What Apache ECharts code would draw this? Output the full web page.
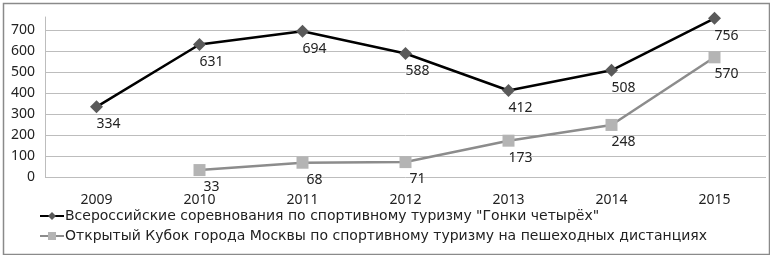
<!DOCTYPE html>
<html>
<head>
<meta charset="utf-8">
<script src="https://cdn.jsdelivr.net/npm/echarts@6/dist/echarts.min.js"></script>
<style>
  html, body { margin: 0; padding: 0; background: #fff; }
  #chart { width: 770px; height: 255px; }
</style>
</head>
<body>
<div id="chart"></div>
<script>
const years = ["2009", "2010", "2011", "2012", "2013", "2014", "2015"];
const raceFour = [334, 631, 694, 588, 412, 508, 756];
const moscowCup = [null, 33, 68, 71, 173, 248, 570];
const seriesNames = [
  "Всероссийские соревнования по спортивному туризму \"Гонки четырёх\"",
  "Открытый Кубок города Москвы по спортивному туризму на пешеходных дистанциях"
];

const font = "Noto Sans";
const chart = echarts.init(document.getElementById("chart"));

const option = {
  animation: false,
  textStyle: { fontFamily: font },
  graphic: [{
    type: "rect",
    left: 1, top: 1,
    shape: { width: 766, height: 251 },
    style: { fill: "none", stroke: "#8a8a8a", lineWidth: 1.5 }
  }],
  grid: { left: 45, right: 4, top: 17, height: 160 },
  xAxis: {
    type: "category",
    data: years,
    boundaryGap: true,
    axisLine: { show: false },
    axisTick: { show: false },
    axisLabel: { color: "#222", fontSize: 14, margin: 16, fontFamily: font }
  },
  yAxis: {
    type: "value",
    min: 0,
    max: 762,
    interval: 100,
    axisLine: { show: true, lineStyle: { color: "#bdbdbd" } },
    axisTick: { show: false },
    axisLabel: {
      color: "#222", fontSize: 14, margin: 10, fontFamily: font,
      showMaxLabel: false
    },
    splitLine: {
      lineStyle: {
        color: ["#bdbdbd", "#bdbdbd", "#bdbdbd", "#bdbdbd", "#bdbdbd",
                "#bdbdbd", "#bdbdbd", "#bdbdbd", "rgba(0,0,0,0)"]
      }
    }
  },
  legend: {
    orient: "vertical",
    left: 34,
    top: 204,
    itemGap: 6,
    itemWidth: 24,
    itemHeight: 10,
    textStyle: { color: "#222", fontSize: 14, fontFamily: "DejaVu Sans", padding: [0, 0, 0, -4] },
    data: seriesNames
  },
  series: [
    {
      name: seriesNames[0],
      type: "line",
      data: raceFour,
      symbol: "diamond",
      symbolSize: 13,
      itemStyle: { color: "#5a5a5a" },
      lineStyle: { color: "#000", width: 2.5 },
      label: {
        show: true, position: "bottom", distance: 4, offset: [12, 0],
        color: "#222", fontSize: 14, fontFamily: font
      }
    },
    {
      name: seriesNames[1],
      type: "line",
      data: moscowCup,
      symbol: "rect",
      symbolSize: 12,
      itemStyle: { color: "#b4b4b4" },
      lineStyle: { color: "#8c8c8c", width: 2.5 },
      label: {
        show: true, position: "bottom", distance: 4, offset: [12, 0],
        color: "#222", fontSize: 14, fontFamily: font
      }
    }
  ]
};

chart.setOption(option);
</script>
</body>
</html>
